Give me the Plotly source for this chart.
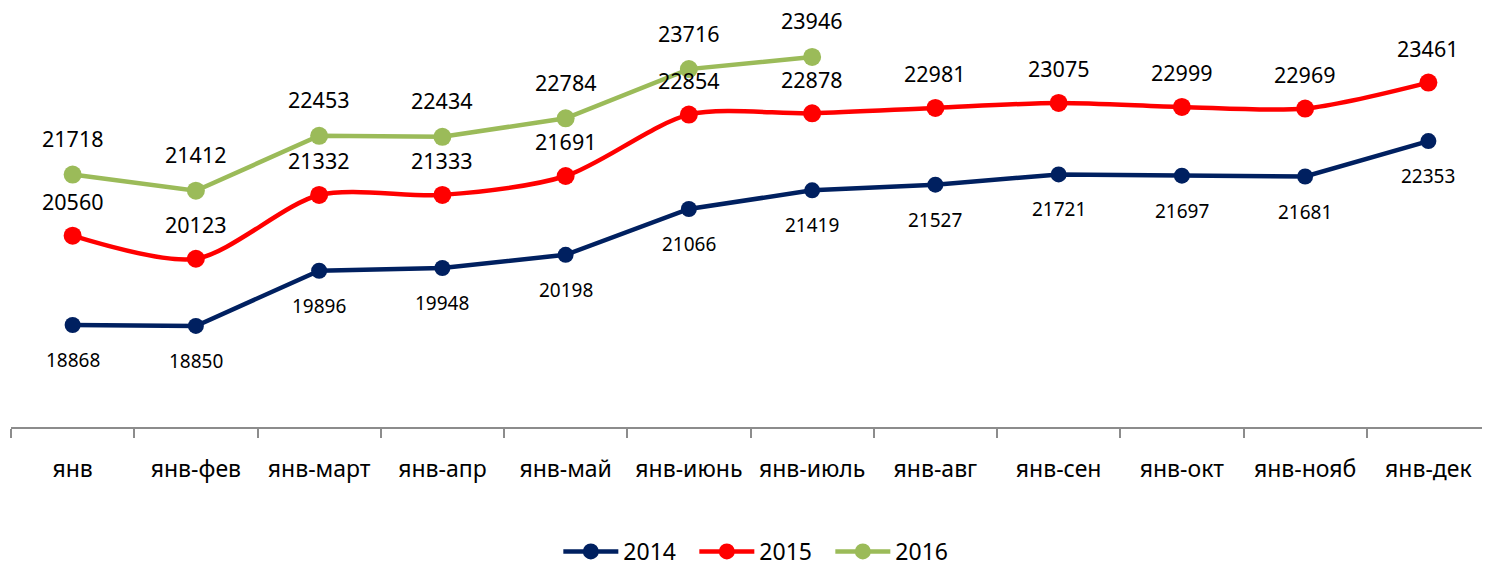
import plotly.graph_objects as go

categories = ["янв", "янв-фев", "янв-март", "янв-апр", "янв-май", "янв-июнь",
              "янв-июль", "янв-авг", "янв-сен", "янв-окт", "янв-нояб", "янв-дек"]
s2014 = [18868, 18850, 19896, 19948, 20198, 21066, 21419, 21527, 21721, 21697, 21681, 22353]
s2015 = [20560, 20123, 21332, 21333, 21691, 22854, 22878, 22981, 23075, 22999, 22969, 23461]
s2016 = [21718, 21412, 22453, 22434, 22784, 23716, 23946]

FONT = "Noto Sans"
fig = go.Figure()

series = [
    ("2014", s2014, "#002060", "linear", 16, -35, 19),
    ("2015", s2015, "#FF0000", "spline", 18, 34, 21.5),
    ("2016", s2016, "#9BBB59", "linear", 18, 36, 21.5),
]

annotations = []
for name, vals, color, shape, msize, shift, fsize in series:
    fig.add_trace(go.Scatter(
        x=categories[:len(vals)], y=vals, name=name, mode="lines+markers",
        line=dict(color=color, width=4.5, shape=shape, smoothing=0.8),
        marker=dict(color=color, size=msize),
    ))
    for c, v in zip(categories, vals):
        annotations.append(dict(x=c, y=v, text=str(v), showarrow=False, borderpad=0,
                                yshift=shift, font=dict(family=FONT, size=fsize, color="#000000")))

fig.update_layout(
    width=1482, height=563,
    margin=dict(l=3, r=0, t=0, b=144, autoexpand=False),
    paper_bgcolor="white", plot_bgcolor="white",
    font=dict(family=FONT, color="#000000"),
    annotations=annotations,
    showlegend=True,
    legend=dict(orientation="h", x=0.508, xanchor="center", y=-0.297, yanchor="middle",
                font=dict(family=FONT, size=23), tracegroupgap=0,
                itemwidth=55, entrywidth=66),
    xaxis=dict(type="category", categoryorder="array", categoryarray=categories,
               range=[-0.5, 11.5], showgrid=False, zeroline=False,
               showline=True, linecolor="#8C8C8C", linewidth=1.5,
               ticks="outside", tickson="boundaries", ticklen=9, tickcolor="#8C8C8C",
               tickwidth=1.5, tickfont=dict(family=FONT, size=23), ticklabelstandoff=21,
               automargin=False),
    yaxis=dict(range=[16935, 24874], visible=False, showgrid=False, zeroline=False),
)

fig.write_html("out.html")
